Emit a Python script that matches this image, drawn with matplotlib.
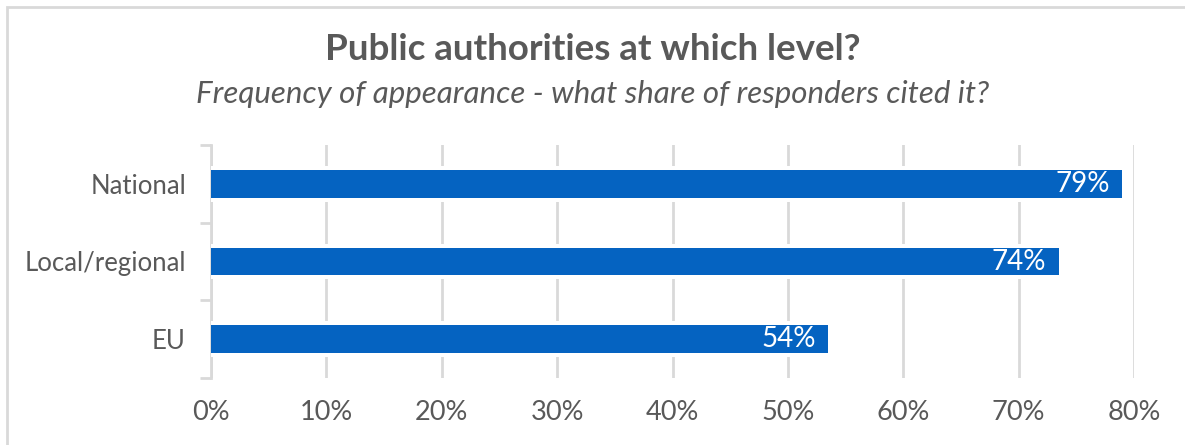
import matplotlib.pyplot as plt
from matplotlib.patches import Rectangle

# survey shares (%), bottom to top
levels = ['EU', 'Local/regional', 'National']
shares = [53.5, 73.5, 79.0]
xticks = [0, 10, 20, 30, 40, 50, 60, 70, 80]

blue = '#0563c1'
grey = '#595959'
light = '#d9d9d9'

plt.rcParams['font.family'] = ['Lato', 'DejaVu Sans']

fig = plt.figure(figsize=(11.85, 4.45), dpi=100)
ax = fig.add_axes([211/1185, 67/445, 923/1185, 233/445])

# outer frame, only top and left visible
fig.patches.append(Rectangle((7/1185, -0.1), 1.2, (438/445) + 0.1, transform=fig.transFigure,
                             fill=False, edgecolor=light, linewidth=2))

y = range(len(levels))
# white halo so the gridlines break around each bar
ax.barh(y, shares, height=0.46, color='white', zorder=2)
ax.barh(y, shares, height=0.36, color=blue, zorder=3)

for i, v in enumerate(shares):
    ax.text(v - 1.1, i, '{:.0f}%'.format(v), color='white', fontsize=20,
            ha='right', va='center', zorder=4)

ax.set_xlim(0, 80)
ax.set_ylim(-0.5, 2.5)
ax.set_xticks(xticks)
ax.set_xticklabels(['{}%'.format(t) for t in xticks])
ax.set_yticks(list(y))
ax.set_yticklabels(levels)
ax.set_yticks([-0.5, 0.5, 1.5, 2.5], minor=True)
ax.tick_params(axis='y', which='major', length=0, pad=18, labelsize=18.5, labelcolor=grey)
ax.tick_params(axis='y', which='minor', length=8, width=2, color=light)
ax.tick_params(axis='x', length=0, pad=16, labelsize=19.5, labelcolor=grey)

ax.grid(axis='x', color=light, linewidth=2, zorder=1)
ax.set_axisbelow(True)
for s in ['top', 'right', 'bottom']:
    ax.spines[s].set_visible(False)
ax.spines['left'].set_color(light)
ax.spines['left'].set_linewidth(2)
ax.spines['left'].set_zorder(1)

fig.text(0.5, 396/445, 'Public authorities at which level?', ha='center', va='center',
         fontsize=26.5, fontweight='bold', color=grey)
fig.text(0.5, 351/445, 'Frequency of appearance - what share of responders cited it?',
         ha='center', va='center', fontsize=22.5, style='italic', color=grey)

plt.savefig('out.png', dpi=100)
